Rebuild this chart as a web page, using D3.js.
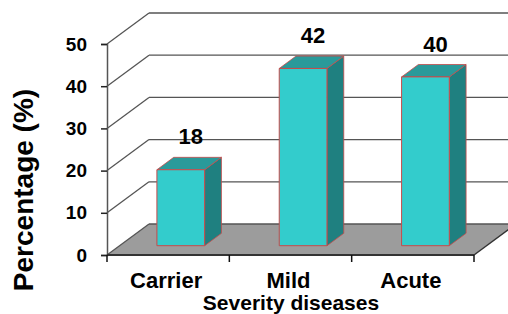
<!DOCTYPE html>
<html>
<head>
<meta charset="utf-8">
<script src="https://d3js.org/d3.v7.min.js"></script>
<style>
  body { margin: 0; background: #fff; }
  text { font-family: "Liberation Sans", Arial, sans-serif; font-weight: bold; fill: #000; }
</style>
</head>
<body>
<svg width="508" height="314"></svg>
<script>

var categories = ["Carrier", "Mild", "Acute"];
var values = [18, 42, 40];
var yTicks = [0, 10, 20, 30, 40, 50];

var svg = d3.select("svg");

// front plane scales
var x = d3.scaleBand()
  .domain(categories)
  .range([107, 474]);

var y = d3.scaleLinear()
  .domain([0, 50])
  .range([255, 44]);

// depth offset of the back wall
var depthX = 42, depthY = -31;
function off(p, d) { return [p[0] + depthX * d, p[1] + depthY * d]; }

// floor
var floor = [[107, y(0)], [474, y(0)], off([474, y(0)], 1), off([107, y(0)], 1)];
svg.append("polygon")
  .attr("points", floor.join(" "))
  .attr("fill", "#9c9c9c")
  .attr("stroke", "none");

// grid lines: side wall diagonal + back wall horizontal
yTicks.forEach(function(v) {
  var a = [107, y(v)], b = off(a, 1);
  svg.append("line")
    .attr("x1", a[0]).attr("y1", a[1]).attr("x2", b[0]).attr("y2", b[1])
    .attr("stroke", "#555").attr("stroke-width", 1.3);
  svg.append("line")
    .attr("x1", b[0]).attr("y1", b[1]).attr("x2", 474 + depthX).attr("y2", b[1])
    .attr("stroke", "#555").attr("stroke-width", 1.3);
});

// right edge of floor
svg.append("line")
  .attr("x1", 474).attr("y1", y(0))
  .attr("x2", off([474, y(0)], 1)[0]).attr("y2", off([474, y(0)], 1)[1])
  .attr("stroke", "#333").attr("stroke-width", 1.5);

// axes
var yAxis = d3.axisLeft(y).tickValues(yTicks).tickSize(6).tickPadding(14);
var gy = svg.append("g").attr("transform", "translate(107,0)").call(yAxis);
gy.select(".domain").attr("stroke", "#555").attr("stroke-width", 1.5);
gy.selectAll(".tick line").attr("stroke", "#222").attr("stroke-width", 1.5);
gy.selectAll(".tick text")
  .style("font-size", "19px")
  .style("font-family", "'Liberation Sans', Arial, sans-serif")
  .style("font-weight", "bold")
  .attr("fill", "#000");

svg.append("line")
  .attr("x1", 107).attr("y1", y(0)).attr("x2", 474).attr("y2", y(0))
  .attr("stroke", "#333").attr("stroke-width", 2);

var catEdges = [107].concat(categories.map(function(c) { return x(c) + x.bandwidth(); }));
svg.selectAll(".cattick")
  .data(catEdges)
  .enter().append("line")
  .attr("x1", function(d) { return d; }).attr("x2", function(d) { return d; })
  .attr("y1", y(0)).attr("y2", y(0) + 7)
  .attr("stroke", "#111").attr("stroke-width", 1.5);

svg.selectAll(".catlabel")
  .data(categories)
  .enter().append("text")
  .attr("x", function(d) { return x(d) + x.bandwidth() / 2 - 2; })
  .attr("y", 288)
  .attr("text-anchor", "middle")
  .style("font-size", "22px")
  .text(function(d) { return d; });

// bars
var d0 = 0.3, d1 = 0.7, barW = x.bandwidth() * 0.39;
var outline = "#c84a4a";

categories.forEach(function(c, i) {
  var v = values[i];
  var cx = x(c) + x.bandwidth() / 2;
  var fl = off([cx - barW / 2, y(0)], d0);
  var fr = off([cx + barW / 2, y(0)], d0);
  var top = y(v) - y(0);
  var ftl = [fl[0], fl[1] + top], ftr = [fr[0], fr[1] + top];
  var btl = off(ftl, d1 - d0), btr = off(ftr, d1 - d0), bbr = off(fr, d1 - d0);

  svg.append("polygon")
    .attr("points", [ftr, btr, bbr, fr].join(" "))
    .attr("fill", "#1f8080").attr("stroke", outline).attr("stroke-width", 0.8);
  svg.append("polygon")
    .attr("points", [ftl, btl, btr, ftr].join(" "))
    .attr("fill", "#2a9a9a").attr("stroke", outline).attr("stroke-width", 0.8);
  svg.append("polygon")
    .attr("points", [fl, ftl, ftr, fr].join(" "))
    .attr("fill", "#33cccc").attr("stroke", outline).attr("stroke-width", 1);

  svg.append("text")
    .attr("x", (ftl[0] + ftr[0]) / 2 + 10)
    .attr("y", btl[1] - 13)
    .attr("text-anchor", "middle")
    .style("font-size", "22px")
    .text(v);
});

// axis titles
svg.append("text")
  .attr("transform", "translate(33,190) rotate(-90)")
  .attr("text-anchor", "middle")
  .style("font-size", "28px")
  .text("Percentage (%)");

svg.append("text")
  .attr("x", 291)
  .attr("y", 310)
  .attr("text-anchor", "middle")
  .style("font-size", "21px")
  .text("Severity diseases");

</script>
</body>
</html>
